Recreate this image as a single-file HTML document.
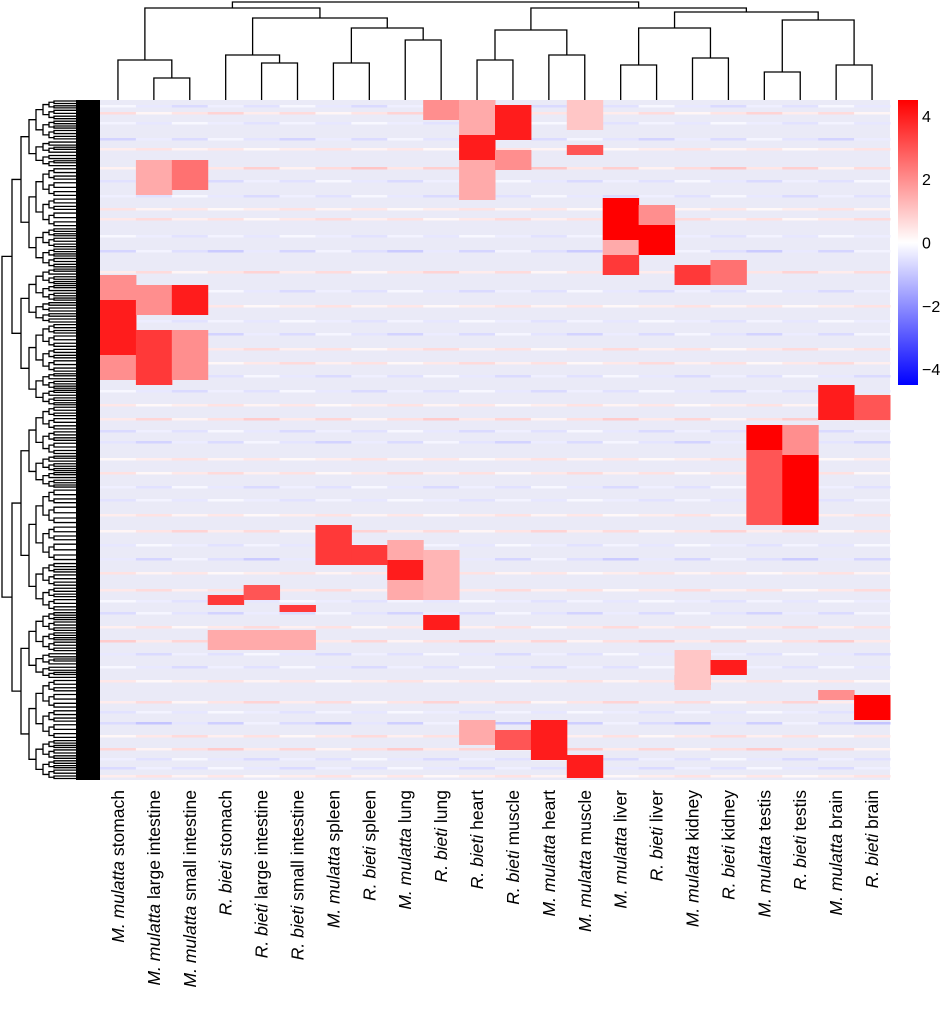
<!DOCTYPE html>
<html><head><meta charset="utf-8"><style>
body{margin:0;background:#fff;width:946px;height:1010px;overflow:hidden}
svg{display:block}
text{font-family:"Liberation Sans",sans-serif}
</style></head><body>
<svg id="c" width="946" height="1010"></svg>
<script>
const colLabels=[["M. mulatta","stomach"],["M. mulatta","large intestine"],["M. mulatta","small intestine"],["R. bieti","stomach"],["R. bieti","large intestine"],["R. bieti","small intestine"],["M. mulatta","spleen"],["R. bieti","spleen"],["M. mulatta","lung"],["R. bieti","lung"],["R. bieti","heart"],["R. bieti","muscle"],["M. mulatta","heart"],["M. mulatta","muscle"],["M. mulatta","liver"],["R. bieti","liver"],["M. mulatta","kidney"],["R. bieti","kidney"],["M. mulatta","testis"],["R. bieti","testis"],["M. mulatta","brain"],["R. bieti","brain"]];
const blockCols=[0,0,1,1,1,2,2,2,3,3,4,4,5,5,6,7,8,8,9,9,9,10,10,10,11,11,11,12,13,13,13,14,14,14,15,15,16,16,16,17,17,18,18,19,19,20,20,21,21];
const blockStart=[175,200,185,230,60,185,60,230,495,530,485,530,505,530,425,445,440,460,515,0,450,0,35,620,5,50,630,620,655,45,0,98,155,140,125,105,165,575,550,160,560,325,350,355,325,285,590,295,595];
const blockEnd=[280,255,215,285,95,215,90,280,505,550,500,550,512,550,465,465,500,480,530,20,500,100,60,645,40,70,650,660,678,55,30,140,175,155,155,125,185,585,590,185,575,350,425,425,355,320,600,320,620];
const blockVal=[2,4,2,3.5,1.5,4,2.5,2,3.5,1.5,3,1.5,3.5,1.5,3.5,3.5,1.5,4,4,2,1.3,1.5,4,1.5,4,2,3,4,4,3,1,4.5,3.5,1.5,4.5,2,3.5,4.5,1,2.5,4,4.5,3,4.5,2,4,2,3,4.5];
const stripeRows=[5,12,22,38,48,67,80,95,108,118,135,150,171,190,205,220,233,248,262,275,290,304,318,330,341,358,372,386,399,414,430,444,458,472,489,500,512,526,540,553,566,580,601,611,622,635,648,658,667,675];
const stripeVals=[-0.5,0.6,-0.4,-0.6,0.4,0.8,-0.5,-0.5,0.4,0.5,-0.4,-0.7,0.6,-0.5,0.4,-0.4,-0.6,0.5,0.5,-0.5,-0.5,0.4,0.7,-0.5,-0.6,0.4,0.5,-0.5,-0.4,0.4,0.6,-0.4,-0.7,0.4,0.5,-0.4,-0.6,0.5,0.7,-0.5,-0.5,0.4,0.6,-0.4,-0.8,0.5,0.7,-0.5,-0.5,0.4];
const ticks=[4,2,0,-2,-4];

const NS="http://www.w3.org/2000/svg",svg=document.getElementById('c');
function el(t,a,p){const e=document.createElementNS(NS,t);for(const k in a)e.setAttribute(k,a[k]);(p||svg).appendChild(e);return e;}
const X0=100,X1=890,Y0=100,Y1=780,n=22,cw=(X1-X0)/n;
const xc=i=>X0+cw*(i+0.5);
const yr=r=>Y0+r*(Y1-Y0)/680;
function col(v){const t=Math.max(-1,Math.min(1,v/4.5));
 if(t>=0){const g=Math.round(255*(1-t));return `rgb(255,${g},${g})`;}
 const g=Math.round(255*(1+t));return `rgb(${g},${g},255)`;}
const hm=el('g',{});

const bg=el('rect',{x:X0,y:Y0,width:X1-X0,height:Y1-Y0,fill:'#eaeaf7'},hm);

for(let s=0;s<stripeRows.length;s++){
 for(let c=0;c<n;c++){
  const v=stripeVals[s]*(((c*7+s*3)%5)/4+0.3);
  const r=el('rect',{x:X0+c*cw,y:yr(stripeRows[s]),width:cw+0.5,height:2.5,fill:col(v)},hm);
  
 }}
for(let b=0;b<blockCols.length;b++){
 const r=el('rect',{x:X0+blockCols[b]*cw,y:yr(blockStart[b]),width:cw+0.5,height:yr(blockEnd[b])-yr(blockStart[b]),fill:col(blockVal[b])},hm);
 
}
const dg=el('g',{stroke:'#000','stroke-width':1.3,fill:'none'});

function leaf(i){return {x:xc(i),y:100};}
function join(a,b,h){el('path',{d:`M${a.x},${a.y}V${h}H${b.x}V${b.y}`},dg);return {x:(a.x+b.x)/2,y:h};}
const L=leaf;
const g12=join(L(1),L(2),78),g012=join(L(0),g12,60);
const g45=join(L(4),L(5),63),g345=join(L(3),g45,55);
const g67=join(L(6),L(7),63),g89=join(L(8),L(9),40),g69=join(g67,g89,28);
const g39=join(g345,g69,18),gA=join(g012,g39,8);
const h1=join(L(10),L(11),60),h2=join(L(12),L(13),55),h3=join(h1,h2,30);
const k1=join(L(14),L(15),65),k2=join(L(16),L(17),58),k3=join(k1,k2,28);
const t1=join(L(18),L(19),72),t2=join(L(20),L(21),65),t3=join(t1,t2,20);
const kt=join(k3,t3,12),hk=join(h3,kt,8);join(gA,hk,2);
const rg=el('g',{stroke:'#000','stroke-width':1.3,fill:'none'});

el('rect',{x:76,y:Y0,width:24,height:Y1-Y0,fill:'#000',stroke:'none'},rg);
function rtree(a,b,d,x){
 if(d>=8||b-a<4){return {y:(a+b)/2,x:76};}
 const f=[0.45,0.55,0.4,0.6,0.5][d%5];const m=a+(b-a)*f;
 const xx=x+[10,9,8,7,7,6,5,5][d];
 const u=rtree(a,m,d+1,xx),w=rtree(m,b,d+1,xx);
 el('path',{d:`M${u.x},${u.y}H${x}V${w.y}H${w.x}`},rg);
 return {y:(u.y+w.y)/2,x:x};
}
rtree(Y0,Y1,0,2);
const lg=el('g',{});

colLabels.forEach((l,i)=>{
 const t=el('text',{transform:`translate(${xc(i)+6},790) rotate(-90)`,'text-anchor':'end','font-size':17.5,fill:'#000'},lg);
 
 const a=el('tspan',{'font-style':'italic'},t);a.textContent=l[0];
 const b=el('tspan',{},t);b.textContent=' '+l[1];
});
const defs=el('defs',{});const gr=el('linearGradient',{id:'cb',x1:0,y1:0,x2:0,y2:1},defs);
[[0,'#ff0000'],[0.5,'#ffffff'],[1,'#0000ff']].forEach(s=>el('stop',{offset:s[0],'stop-color':s[1]},gr));
const cb=el('rect',{x:898,y:100,width:20,height:285,fill:'url(#cb)'});

const cy=v=>100+(4.5-v)/9*285;
ticks.forEach(v=>{
 const t=el('text',{x:922,y:cy(v)+6,'font-size':16,fill:'#000'});
 
 t.textContent=v<0?'\u2212'+(-v):String(v);
});
</script>
</body></html>
